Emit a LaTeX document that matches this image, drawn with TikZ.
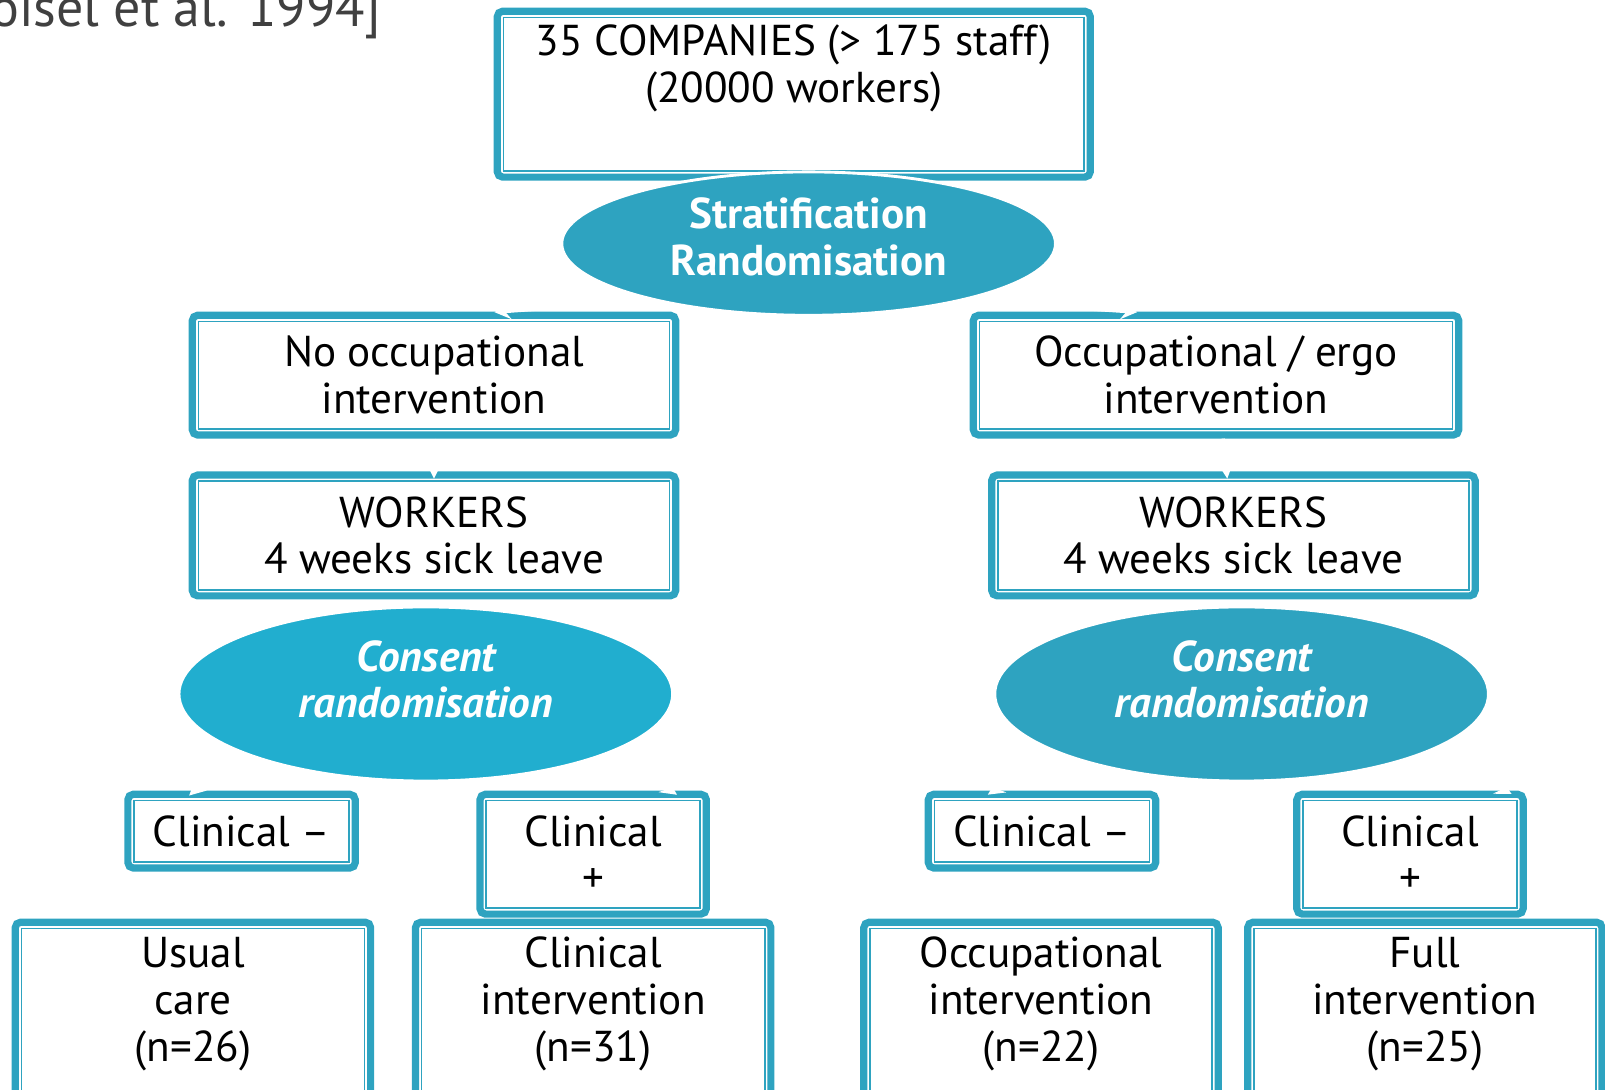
\documentclass[tikz,border=0pt]{standalone}
\usepackage{fontspec}
\setmainfont{PT Sans}
\usepackage{tikz}
\usetikzlibrary{positioning,shapes}
\definecolor{boxteal}{RGB}{46,163,192}
\definecolor{brightteal}{RGB}{33,174,207}
\definecolor{citegrey}{RGB}{64,64,64}
\tikzstyle{tealbox} = [rectangle, draw=boxteal, line width=2pt, rounded corners=1.5pt, fill=white, align=center, inner sep=0pt, font=\fontsize{12}{13}\selectfont,
  path picture={\draw[boxteal, line width=0.45pt, sharp corners] ([shift={(1.7pt,-1.7pt)}]path picture bounding box.north west) rectangle ([shift={(-1.7pt,1.7pt)}]path picture bounding box.south east);}]
\tikzstyle{bubble} = [ellipse, fill=boxteal, draw=white, line width=0.8pt, text=white, align=center, inner sep=0pt, minimum width=4.82cm, font=\fontsize{12}{13}\selectfont\bfseries]
\tikzstyle{whitearrow} = [->, >=stealth, draw=white, line width=1pt, shorten >=-2pt]

\begin{document}
\begin{tikzpicture}[x=0.01cm,y=-0.01cm]
      \pgfmathsetmacro{\Vgap}{0.32};
      \useasboundingbox (0,0) rectangle (1568,1064);
      \node[anchor=base east, text=citegrey, font=\fontsize{15}{18}\selectfont] (Citation) at (385,26) {[Loisel et al. 1994]};
      \node[tealbox, minimum width=5.79cm, minimum height=1.62cm] (Companies) at (775.5,92) {35 COMPANIES (> 175 staff)\\(20000 workers)\\\strut};
      \node[bubble, minimum height=1.40cm, text depth=0.13cm] (Stratification) at (790,238) {Stratification\\Randomisation};
      %
      \node[tealbox, minimum width=4.72cm, minimum height=1.17cm] (NoOccInterv) at (424,366.5) {No occupational\\intervention};
      \node[tealbox, minimum width=4.74cm, minimum height=1.17cm] (OccInterv) at (1188,366.5) {Occupational / ergo\\intervention};
      \node[tealbox, minimum width=4.72cm, minimum height=1.18cm, below=\Vgap cm of NoOccInterv] (WorkersLeft) {WORKERS\\4 weeks sick leave};
      \node[tealbox, minimum width=4.72cm, minimum height=1.18cm, below=\Vgap cm of OccInterv, xshift=0.17cm] (WorkersRight) {WORKERS\\4 weeks sick leave};
      %
      \node[bubble, fill=brightteal, minimum height=1.70cm, text depth=0.29cm, font=\fontsize{12}{13}\selectfont\bfseries\itshape] (ConsentLeft) at (416,678) {Consent\\randomisation};
      \node[bubble, minimum height=1.70cm, text depth=0.29cm, font=\fontsize{12}{13}\selectfont\bfseries\itshape] (ConsentRight) at (1213,678) {Consent\\randomisation};
      %
      \node[tealbox, minimum width=2.22cm, minimum height=0.72cm] (ClinMinusLeft) at (236,812) {Clinical --};
      \node[tealbox, minimum width=2.21cm, minimum height=1.17cm] (ClinPlusLeft) at (579.5,834.5) {Clinical\\+};
      \node[tealbox, minimum width=2.22cm, minimum height=0.72cm] (ClinMinusRight) at (1018,812) {Clinical --};
      \node[tealbox, minimum width=2.21cm, minimum height=1.17cm] (ClinPlusRight) at (1377.5,834.5) {Clinical\\+};
      %
      \node[tealbox, minimum width=3.47cm, minimum height=2.10cm] (UsualCare) at (188.5,1006) {Usual\\care\\(n=26)\\\strut};
      \node[tealbox, minimum width=3.47cm, minimum height=2.10cm] (ClinInterv) at (579.5,1006) {Clinical\\intervention\\(n=31)\\\strut};
      \node[tealbox, minimum width=3.46cm, minimum height=2.10cm] (OccupInterv) at (1017,1006) {Occupational\\intervention\\(n=22)\\\strut};
      \node[tealbox, minimum width=3.46cm, minimum height=2.10cm] (FullInterv) at (1392,1006) {Full\\intervention\\(n=25)\\\strut};
      %
      \draw[whitearrow] (Stratification.200) -- ([xshift=0.66cm]NoOccInterv.north);
      \draw[whitearrow] (Stratification.-20) -- ([xshift=-0.84cm]OccInterv.north);
      \draw[whitearrow] (NoOccInterv) -- (WorkersLeft);
      \draw[whitearrow] (OccInterv) -- (WorkersRight);
      \draw[whitearrow] (ConsentLeft.197) -- ([xshift=-0.46cm]ClinMinusLeft.north);
      \draw[whitearrow] (ConsentLeft.343) -- ([xshift=0.76cm]ClinPlusLeft.north);
      \draw[whitearrow] (ConsentRight.197) -- ([xshift=-0.47cm]ClinMinusRight.north);
      \draw[whitearrow] (ConsentRight.343) -- ([xshift=0.93cm]ClinPlusRight.north);
    \end{tikzpicture}
\end{document}
